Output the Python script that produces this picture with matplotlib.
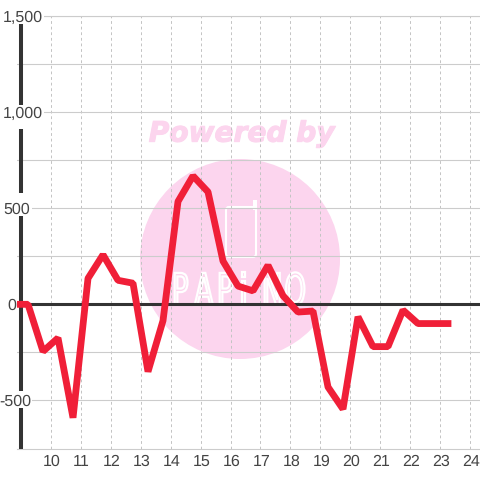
import matplotlib
matplotlib.use("Agg")
import matplotlib.pyplot as plt
from matplotlib.patches import Circle, FancyBboxPatch, PathPatch, Rectangle
from matplotlib.textpath import TextPath
from matplotlib.font_manager import FontProperties
from matplotlib.transforms import IdentityTransform, Affine2D
import matplotlib.patheffects as pe

hours = [8.75, 9.25, 9.75, 10.25, 10.75, 11.25, 11.75, 12.25, 12.75, 13.25, 13.75, 14.25,
         14.75, 15.25, 15.75, 16.25, 16.75, 17.25, 17.75, 18.25, 18.75, 19.25, 19.75,
         20.25, 20.75, 21.25, 21.75, 22.25, 22.75, 23.25]
values = [0, 0, -245, -175, -590, 135, 258, 125, 110, -350, -85, 535,
          668, 585, 225, 95, 70, 203, 45, -40, -35, -430, -545,
          -65, -220, -220, -30, -100, -100, -100]
y_ticks = [-500, 0, 500, 1000, 1500]
y_minor = [-250, 250, 750, 1250]
y_labels = ["-500", "0", "500", "1,000", "1,500"]
y_label_right = [31, 16, 30.5, 43, 43]
x_ticks = list(range(10, 25))
logo_letters = ["P", "A", "P", "i", "N", "O"]

plt.rcParams['font.family'] = ['Liberation Sans', 'DejaVu Sans']
plt.rcParams['text.hinting'] = 'none'
plt.rcParams['text.hinting_factor'] = 1

fig = plt.figure(figsize=(4.8, 4.8), dpi=100)
ax = fig.add_axes([17 / 480, 31.5 / 480, 463 / 480, 432.5 / 480])
ax.patch.set_alpha(0)

ax.set_xlim(8.883, 24.317)
ax.set_ylim(-750, 1500)

# watermark sits behind the axes, pixel coords with y from the bottom
px = IdentityTransform()
pink = "#fcd5ee"
fig.patches.append(Circle((240, 480 - 259), 100, transform=px, color=pink, lw=0, zorder=-5))
fig.patches.append(FancyBboxPatch((226, 480 - 257), 30, 50, boxstyle="round,pad=0,rounding_size=3",
                                  transform=px, fc="none", ec="white", lw=1.5, zorder=-4))
fig.patches.append(Rectangle((253, 480 - 210), 3.5, 10, transform=px, fc="white", lw=0, zorder=-4))
fig.text(241.5 / 480, 1 - 134 / 480, "Powered by", color=pink, fontsize=20.2, family="DejaVu Sans",
         weight="bold", style="italic", ha="center", va="center", zorder=-4,
         path_effects=[pe.withStroke(linewidth=0.8, foreground=pink)])
for i, letter in enumerate(logo_letters):
    tp = TextPath((0, 0), letter, size=44, prop=FontProperties(family="DejaVu Sans"))
    trans = Affine2D().scale(0.62, 1).translate(172 + 22.5 * i, 480 - 305) + px
    fig.patches.append(PathPatch(tp, transform=trans, fc="none", ec="white", lw=1.6, zorder=-4))

ax.set_yticks(y_ticks)
ax.set_yticks(y_minor, minor=True)
ax.set_xticks(x_ticks)
ax.tick_params(which="both", length=0)
ax.set_yticklabels([])
ax.set_xticklabels([])
ax.grid(True, axis="y", which="both", color="#cccccc", lw=0.8)
ax.grid(True, axis="x", color="#c4c4c4", lw=0.72, ls=(0, (2.8, 2.8)))
ax.set_axisbelow(True)

for s in ["top", "right", "bottom"]:
    ax.spines[s].set_visible(False)
ax.spines["left"].set_position(("data", 9))
ax.spines["left"].set_linewidth(2.9)
ax.spines["left"].set_color("#333333")
ax.spines["left"].set_capstyle("butt")
ax.spines["left"].set_zorder(3)
ax.axhline(-750, color="#cccccc", lw=0.8, zorder=1, clip_on=False)
ax.axhline(1500, color="#cccccc", lw=0.8, zorder=1, clip_on=False)
ax.axhline(0, xmin=(9 - 8.883) / (24.317 - 8.883), color="#333333", lw=2.2, zorder=3)

# label backgrounds break the axis line and the start of each grid line
for top, bottom in [(8, 24), (105, 129), (193, 216), (391, 408)]:
    ax.add_patch(Rectangle((17, 480 - bottom), 8, bottom - top, transform=px, fc="white", lw=0,
                           zorder=3.5, clip_on=False))
for v, right in zip(y_ticks, y_label_right):
    if v != 0:
        ax.add_patch(Rectangle((17, ax.transData.transform((0, v))[1] - 2), right - 16, 4, transform=px,
                               fc="white", lw=0, zorder=2, clip_on=False))

ax.plot(hours, values, color="#f01f38", lw=4.9, solid_joinstyle="bevel", solid_capstyle="projecting", zorder=4)

for x in x_ticks:
    ax.annotate(str(x), (x, -750), xytext=(0.72, -13 * 0.72), textcoords="offset points",
                ha="center", va="center", fontsize=11.2, color="#444444")

for v, lab, right in zip(y_ticks, y_labels, y_label_right):
    ax.annotate(lab, (0, v), xycoords=("figure pixels", "data"), xytext=(right, -1),
                textcoords=("figure pixels", "offset points"), ha="right", va="center",
                fontsize=11.2, color="#444444", zorder=5, annotation_clip=False)

fig.savefig("out.png", dpi=100)
